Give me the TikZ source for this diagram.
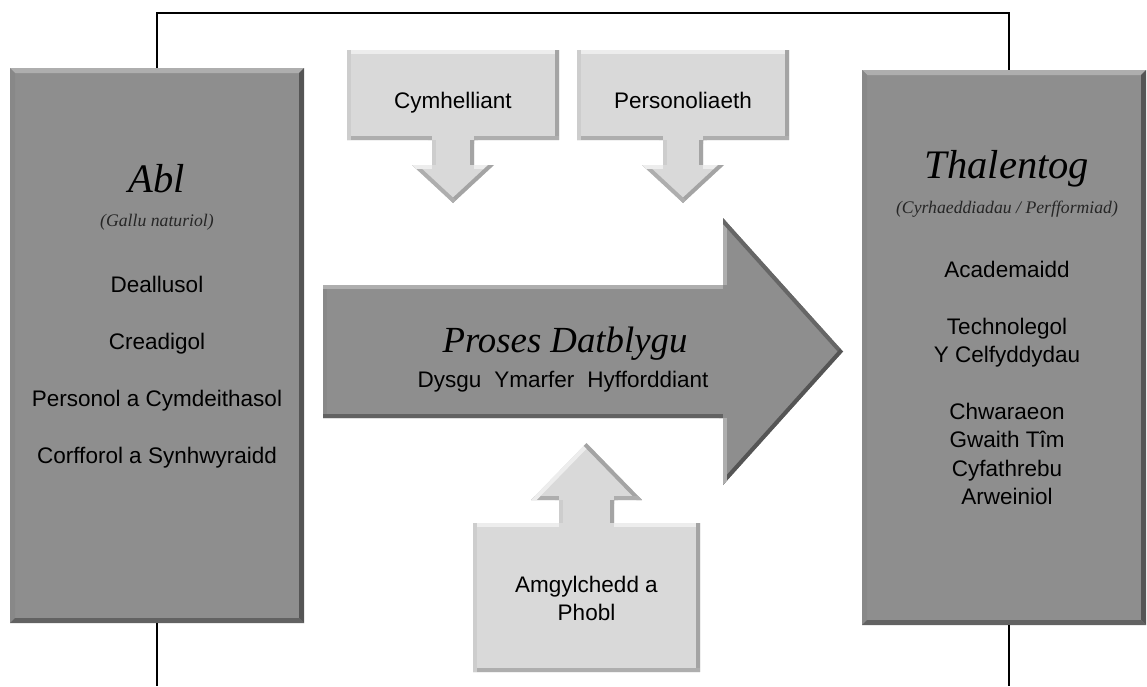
\documentclass[tikz,border=0pt]{standalone}
\usepackage{fontspec}
\newfontfamily\arial{Liberation Sans}
\newfontfamily\fancy{Liberation Serif}
\definecolor{dfill}{HTML}{8E8E8E}
\definecolor{dtop}{HTML}{AEAEAE}
\definecolor{dleft}{HTML}{888888}
\definecolor{dright}{HTML}{555555}
\definecolor{dbot}{HTML}{626262}
\definecolor{lfill}{HTML}{D9D9D9}
\definecolor{ltop}{HTML}{EDEDED}
\definecolor{lleft}{HTML}{CDCDCD}
\definecolor{lright}{HTML}{A4A4A4}
\definecolor{lbot}{HTML}{AEAEAE}
\newcommand\bevfill[4]{%
  \path (path picture bounding box.north west) coordinate (qa)
        (path picture bounding box.north east) coordinate (qb)
        (path picture bounding box.south east) coordinate (qc)
        (path picture bounding box.south west) coordinate (qd);
  \fill[#1] (qa) -- (qb) -- ([shift={(-5pt,-5pt)}]qb) -- ([shift={(5pt,-5pt)}]qa) -- cycle;
  \fill[#2] (qa) -- (qd) -- ([shift={(5pt,5pt)}]qd) -- ([shift={(5pt,-5pt)}]qa) -- cycle;
  \fill[#3] (qb) -- (qc) -- ([shift={(-5pt,5pt)}]qc) -- ([shift={(-5pt,-5pt)}]qb) -- cycle;
  \fill[#4] (qd) -- (qc) -- ([shift={(-5pt,5pt)}]qc) -- ([shift={(5pt,5pt)}]qd) -- cycle;
}
\tikzset{
  bigbox/.style={rectangle, inner sep=0pt, fill=dfill, path picture={\bevfill{dtop}{dleft}{dright}{dbot}}},
  lbl/.style={font=\arial\fontsize{22.5}{27}\selectfont, inner sep=0pt, anchor=base, text=black},
  ttl/.style={font=\fancy\itshape\fontsize{40.5}{44}\selectfont, inner sep=0pt, anchor=base, text=black},
  subttl/.style={font=\fancy\itshape\fontsize{17.7}{20}\selectfont, inner sep=0pt, anchor=base, text=black!85},
  conn/.style={line width=2.6pt, black},
  edg/.style={line width=8pt},
}
\begin{document}
\begin{tikzpicture}[x=1pt,y=-1pt]
\useasboundingbox (0,0) rectangle (1147,686);

% side boxes
\node[bigbox, minimum width=294pt, minimum height=555pt] (lbox) at (157,345.5) {};
\node[bigbox, minimum width=284pt, minimum height=555pt] (rbox) at (1004,347.5) {};

% connectors
\coordinate (tr) at (1009,13);
\coordinate (rt) at (1009,70);
\coordinate (lb) at (157,686);
\coordinate (rb) at (1009,625);
\coordinate (rbb) at (1009,686);
\draw[conn] (lbox.north) |- (tr) -- (rt);
\draw[conn] (lbox.south) -- (lb);
\draw[conn] (rb) -- (rbb);

% big process arrow
\begin{scope}
  \clip (323,285) -- (723,285) -- (723,218) -- (843,351.5) -- (723,485) -- (723,418) -- (323,418) -- cycle;
  \fill[dfill] (300,200) rectangle (860,500);
  \draw[edg, dleft] (323,418) -- (323,285);
  \draw[edg, dtop] (323,285) -- (723,285);
  \draw[edg, dtop] (723,285) -- (723,218);
  \draw[edg, dright!70!dfill] (723,218) -- (843,351.5);
  \draw[edg, dright] (843,351.5) -- (723,485);
  \draw[edg, dtop] (723,485) -- (723,418);
  \draw[edg, dbot] (723,418) -- (323,418);
\end{scope}

% Cymhelliant callout
\begin{scope}
  \clip (347,50) -- (559,50) -- (559,140) -- (474,140) -- (474,165) -- (494,165) -- (453,203) -- (412,165) -- (432,165) -- (432,140) -- (347,140) -- cycle;
  \fill[lfill] (340,40) rectangle (570,210);
  \draw[edg, ltop] (347,50) -- (559,50);
  \draw[edg, lright] (559,50) -- (559,140);
  \draw[edg, lbot] (559,140) -- (474,140);
  \draw[edg, lright] (474,140) -- (474,165);
  \draw[edg, ltop] (474,165) -- (494,165);
  \draw[edg, lright] (494,165) -- (453,203);
  \draw[edg, lbot] (453,203) -- (412,165);
  \draw[edg, ltop] (412,165) -- (432,165);
  \draw[edg, lleft] (432,165) -- (432,140);
  \draw[edg, lbot] (432,140) -- (347,140);
  \draw[edg, lleft] (347,140) -- (347,50);
\end{scope}

% Personoliaeth callout
\begin{scope}
  \clip (577,50) -- (789,50) -- (789,140) -- (703,140) -- (703,165) -- (724,165) -- (683,203) -- (642,165) -- (663,165) -- (663,140) -- (577,140) -- cycle;
  \fill[lfill] (570,40) rectangle (800,210);
  \draw[edg, ltop] (577,50) -- (789,50);
  \draw[edg, lright] (789,50) -- (789,140);
  \draw[edg, lbot] (789,140) -- (703,140);
  \draw[edg, lright] (703,140) -- (703,165);
  \draw[edg, ltop] (703,165) -- (724,165);
  \draw[edg, lright] (724,165) -- (683,203);
  \draw[edg, lbot] (683,203) -- (642,165);
  \draw[edg, ltop] (642,165) -- (663,165);
  \draw[edg, lleft] (663,165) -- (663,140);
  \draw[edg, lbot] (663,140) -- (577,140);
  \draw[edg, lleft] (577,140) -- (577,50);
\end{scope}

% Amgylchedd callout (up)
\begin{scope}
  \clip (473,523) -- (559,523) -- (559,500) -- (531,500) -- (586.5,443) -- (642,500) -- (614,500) -- (614,523) -- (700,523) -- (700,672) -- (473,672) -- cycle;
  \fill[lfill] (465,435) rectangle (710,680);
  \draw[edg, ltop] (473,523) -- (559,523);
  \draw[edg, lleft] (559,523) -- (559,500);
  \draw[edg, lbot] (559,500) -- (531,500);
  \draw[edg, ltop] (531,500) -- (586.5,443);
  \draw[edg, lright] (586.5,443) -- (642,500);
  \draw[edg, lbot] (642,500) -- (614,500);
  \draw[edg, lright] (614,500) -- (614,523);
  \draw[edg, ltop] (614,523) -- (700,523);
  \draw[edg, lright] (700,523) -- (700,672);
  \draw[edg, lbot] (700,672) -- (473,672);
  \draw[edg, lleft] (473,672) -- (473,523);
\end{scope}

% texts left
\node[ttl] (tabl) at (157,192) {Abl};
\node[subttl] (tgallu) at (157,226) {(Gallu naturiol)};
\node[lbl] (l1) at (157,292) {Deallusol};
\node[lbl] (l2) at (157,349) {Creadigol};
\node[lbl] (l3) at (157,406) {Personol a Cymdeithasol};
\node[lbl] (l4) at (157,463) {Corfforol a Synhwyraidd};

% texts right
\node[ttl] (tthal) at (1007,178) {Thalentog};
\node[subttl] (tcyrh) at (1007,213) {(Cyrhaeddiadau / Perfformiad)};
\node[lbl] (r1) at (1007,277) {Academaidd};
\node[lbl] (r2) at (1007,334) {Technolegol};
\node[lbl] (r3) at (1007,362) {Y Celfyddydau};
\node[lbl] (r4) at (1007,419) {Chwaraeon};
\node[lbl] (r5) at (1007,447) {Gwaith Tîm};
\node[lbl] (r6) at (1007,476) {Cyfathrebu};
\node[lbl] (r7) at (1007,504) {Arweiniol};

% centre texts
\node[ttl, font=\fancy\itshape\fontsize{36.8}{40}\selectfont] (tproses) at (565,352) {Proses Datblygu};
\node[lbl] (tdysgu) at (563,387) {Dysgu\hspace{13pt}Ymarfer\hspace{13pt}Hyfforddiant};
\node[lbl] (tcym) at (453,108) {Cymhelliant};
\node[lbl] (tpers) at (683,108) {Personoliaeth};
\node[lbl] (tamg1) at (586.5,592) {Amgylchedd a};
\node[lbl] (tamg2) at (586.5,620) {Phobl};
\end{tikzpicture}
\end{document}
